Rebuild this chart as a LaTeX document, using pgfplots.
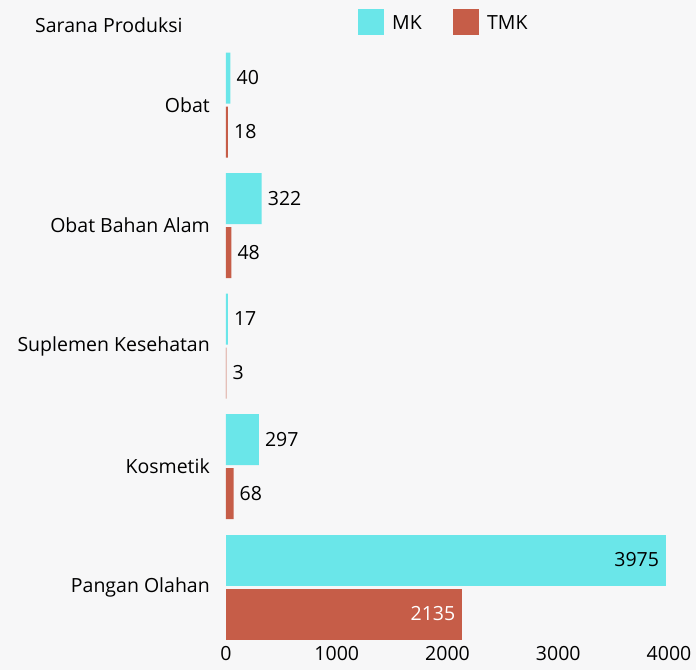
\documentclass[border=0pt]{standalone}
\usepackage{pgfplots}
\pgfplotsset{compat=1.18}
\usepackage{pgfplotstable}
\usepackage{fontspec}
\setmainfont{Open Sans}
\definecolor{mkc}{HTML}{6AE6E9}
\definecolor{tmkc}{HTML}{C65D48}
\definecolor{bgc}{HTML}{F7F7F8}
\newcommand{\lblfont}{\fontsize{19.5}{22}\selectfont}

% small bars: label right of the bar
\pgfplotstableread{
y x
0 40
1 322
2 17
3 297
}\mk
\pgfplotstableread{
y x
0 18
1 48
2 3
3 68
}\tmk
% long bars: label inside the bar
\pgfplotstableread{
y x
4 3975
}\mkbig
\pgfplotstableread{
y x
4 2135
}\tmkbig

\begin{document}
\begin{tikzpicture}
\fill[bgc] (0,0) rectangle (696pt,670pt);
\node[anchor=west,font=\lblfont,inner sep=0pt] at (35pt,645pt) {Sarana Produksi};
\fill[mkc] (358pt,635pt) rectangle (384pt,661pt);
\node[anchor=west,font=\lblfont,inner sep=0pt] at (392pt,647pt) {MK};
\fill[tmkc] (453pt,635pt) rectangle (479pt,661pt);
\node[anchor=west,font=\lblfont,inner sep=0pt] at (487pt,647pt) {TMK};
\begin{axis}[
  at={(226pt,22.75pt)}, anchor=south west,
  scale only axis, width=443pt, height=602.5pt,
  xbar, bar width=51pt,
  xmin=0, xmax=4000,
  ymin=-0.5, ymax=4.5, y dir=reverse,
  ytick={0,1,2,3,4},
  yticklabels={Obat,Obat Bahan Alam,Suplemen Kesehatan,Kosmetik,Pangan Olahan},
  xtick={0,1000,2000,3000,4000},
  axis line style={draw=none},
  major tick length=0pt,
  tick label style={font=\lblfont},
  /pgf/number format/assume math mode=true,
  /pgf/number format/1000 sep={},
  yticklabel style={xshift=-16pt, inner sep=0pt},
  xticklabel style={yshift=4pt},
  nodes near coords,
  nodes near coords style={font=\lblfont, anchor=west, inner sep=6pt,
    /pgf/number format/1000 sep={}, /pgf/number format/assume math mode=true},
]
\addplot[fill=mkc, draw=none, bar shift=27pt] table[x=x, y=y] {\mk};
\addplot[fill=tmkc, draw=none, bar shift=-27pt] table[x=x, y=y] {\tmk};
\addplot[fill=mkc, draw=none, bar shift=27pt,
  nodes near coords style={anchor=east, inner sep=7pt, text=black}] table[x=x, y=y] {\mkbig};
\addplot[fill=tmkc, draw=none, bar shift=-27pt,
  nodes near coords style={anchor=east, inner sep=7pt, text=white}] table[x=x, y=y] {\tmkbig};
\end{axis}
\end{tikzpicture}
\end{document}
